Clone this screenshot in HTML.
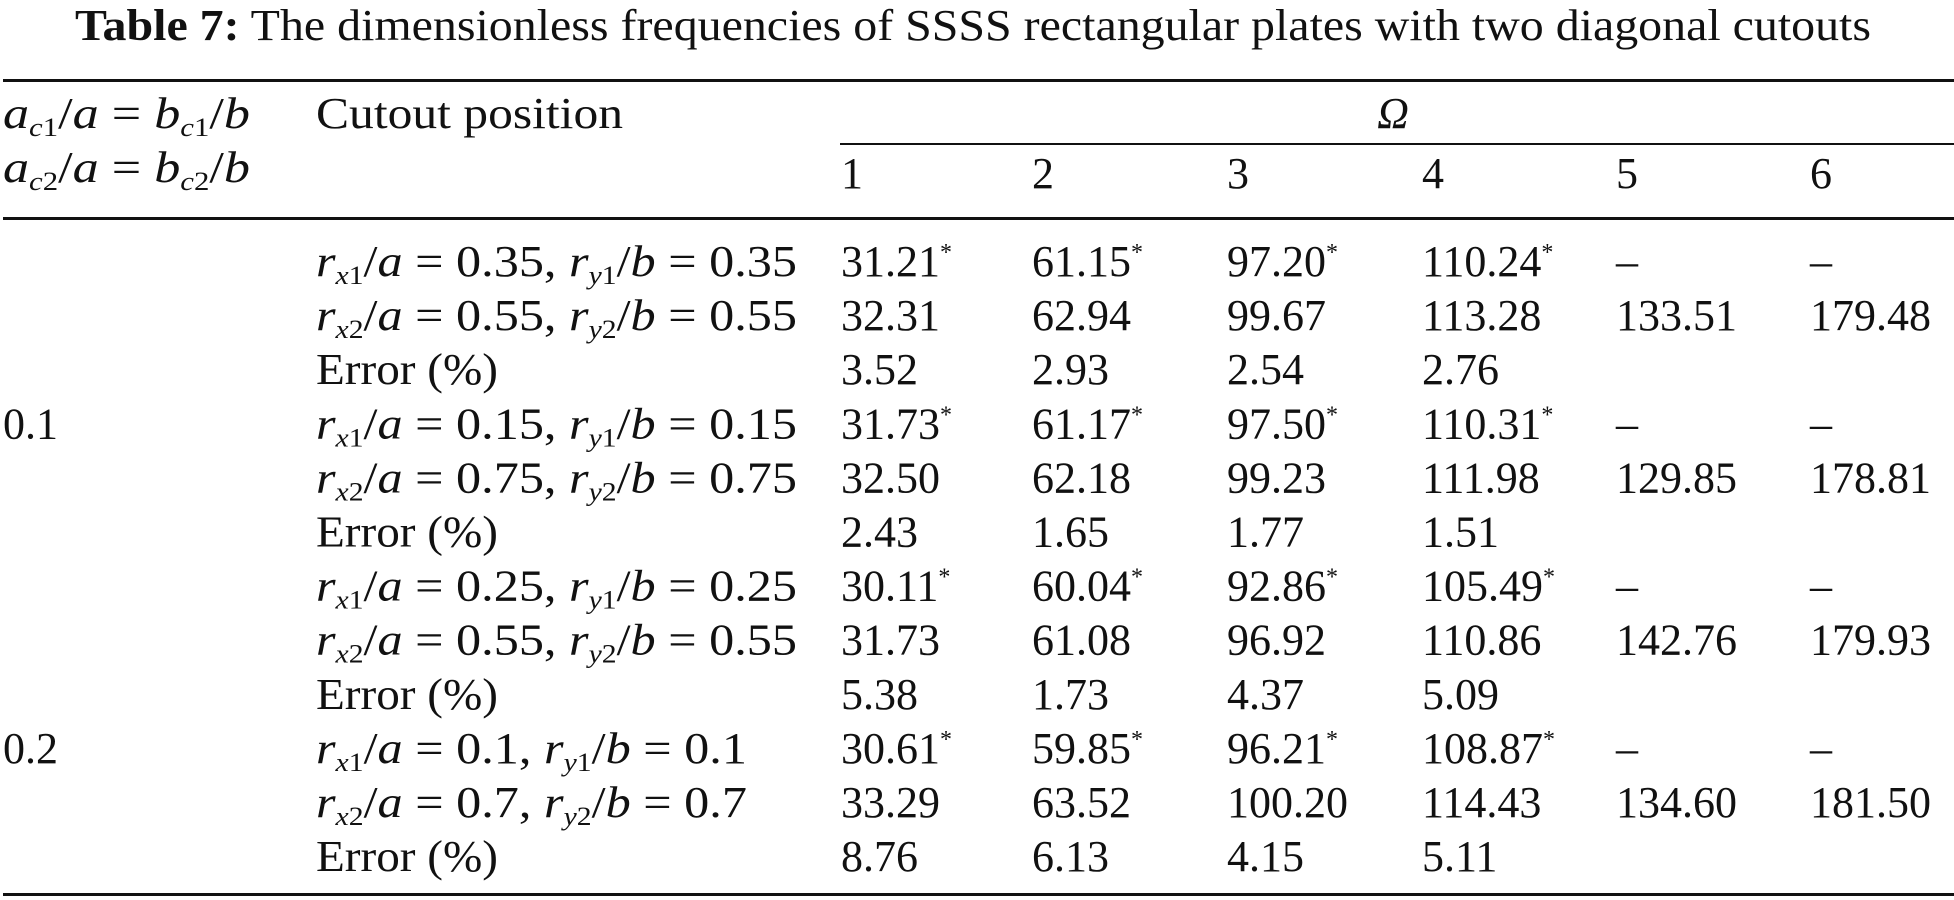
<!DOCTYPE html>
<html><head><meta charset="utf-8">
<style>
html,body{margin:0;padding:0;background:#fff;}
svg{display:block;}
text{font-family:"Liberation Serif",serif;fill:#111;}
</style></head>
<body>
<svg id="tbl" width="1954" height="900" viewBox="0 0 1954 900">
<text x="75" y="40" font-size="44" textLength="1796" lengthAdjust="spacingAndGlyphs"><tspan font-weight="bold">Table 7:</tspan>  The dimensionless frequencies of SSSS rectangular plates with two diagonal cutouts</text>
<rect x="3" y="79" width="1951" height="3" fill="#111"/>
<rect x="840" y="143" width="1114" height="2" fill="#111"/>
<rect x="3" y="217" width="1951" height="3" fill="#111"/>
<rect x="3" y="893" width="1951" height="3" fill="#111"/>
<text x="3" y="128" font-size="44" textLength="247" lengthAdjust="spacingAndGlyphs"><tspan font-style="italic">a</tspan><tspan font-style="italic" font-size="26" dy="8">c</tspan><tspan font-size="26">1</tspan><tspan dy="-8">/</tspan><tspan font-style="italic">a</tspan> = <tspan font-style="italic">b</tspan><tspan font-style="italic" font-size="26" dy="8">c</tspan><tspan font-size="26">1</tspan><tspan dy="-8">/</tspan><tspan font-style="italic">b</tspan></text>
<text x="3" y="182" font-size="44" textLength="247" lengthAdjust="spacingAndGlyphs"><tspan font-style="italic">a</tspan><tspan font-style="italic" font-size="26" dy="8">c</tspan><tspan font-size="26">2</tspan><tspan dy="-8">/</tspan><tspan font-style="italic">a</tspan> = <tspan font-style="italic">b</tspan><tspan font-style="italic" font-size="26" dy="8">c</tspan><tspan font-size="26">2</tspan><tspan dy="-8">/</tspan><tspan font-style="italic">b</tspan></text>
<text x="316" y="128" font-size="44" textLength="307" lengthAdjust="spacingAndGlyphs">Cutout position</text>
<text x="1393" y="128" font-size="44" font-style="italic" text-anchor="middle">Ω</text>
<g id="body"></g>
</svg>
<script>
const modeHeads = ["1","2","3","4","5","6"];
const groupLabels = ["", "", "", "0.1", "", "", "", "", "", "0.2", "", ""];
const posIdx = ["1","2","","1","2","","1","2","","1","2",""];
const posVals = ["0.35","0.55","","0.15","0.75","","0.25","0.55","","0.1","0.7",""];
const col1 = ["31.21*","32.31","3.52","31.73*","32.50","2.43","30.11*","31.73","5.38","30.61*","33.29","8.76"];
const col2 = ["61.15*","62.94","2.93","61.17*","62.18","1.65","60.04*","61.08","1.73","59.85*","63.52","6.13"];
const col3 = ["97.20*","99.67","2.54","97.50*","99.23","1.77","92.86*","96.92","4.37","96.21*","100.20","4.15"];
const col4 = ["110.24*","113.28","2.76","110.31*","111.98","1.51","105.49*","110.86","5.09","108.87*","114.43","5.11"];
const col5 = ["–","133.51","","–","129.85","","–","142.76","","–","134.60",""];
const col6 = ["–","179.48","","–","178.81","","–","179.93","","–","181.50",""];
const cols=[col1,col2,col3,col4,col5,col6];
const colX=[841,1032,1227,1422,1616,1810];
const NS="http://www.w3.org/2000/svg";
const g=document.getElementById('body');
const rowY=i=>276+i*54.1;
modeHeads.forEach((h,j)=>{
  const t=document.createElementNS(NS,'text');
  t.setAttribute('x',colX[j]);t.setAttribute('y',188);t.setAttribute('font-size','44');
  t.textContent=h;
  
  
  g.appendChild(t);
});
for(let i=0;i<12;i++){
  const y=rowY(i);
  if(groupLabels[i]){
    const t=document.createElementNS(NS,'text');
    t.setAttribute('x',3);t.setAttribute('y',y);t.setAttribute('font-size','44');
    t.textContent=groupLabels[i];
    
    
    g.appendChild(t);
  }
  const l=document.createElementNS(NS,'text');
  l.setAttribute('x',316);l.setAttribute('y',y);l.setAttribute('font-size','44');
  l.setAttribute('lengthAdjust','spacingAndGlyphs');
  if(posIdx[i]){
    const k=posIdx[i],v=posVals[i];
    l.innerHTML='<tspan font-style="italic">r</tspan><tspan font-style="italic" font-size="26" dy="8">x</tspan><tspan font-size="26">'+k+'</tspan><tspan dy="-8">/</tspan><tspan font-style="italic">a</tspan> = '+v+', <tspan font-style="italic">r</tspan><tspan font-style="italic" font-size="26" dy="8">y</tspan><tspan font-size="26">'+k+'</tspan><tspan dy="-8">/</tspan><tspan font-style="italic">b</tspan> = '+v;
    l.setAttribute('textLength', v.length>3?481:431);
  } else {
    l.textContent='Error (%)';
    l.setAttribute('textLength',182);
  }
  
  
  g.appendChild(l);
  cols.forEach((c,j)=>{
    const s=c[i]; if(!s) return;
    const t=document.createElementNS(NS,'text');
    t.setAttribute('x',colX[j]);t.setAttribute('y',y);t.setAttribute('font-size','44');
    if(s.endsWith('*')){
      t.innerHTML=s.slice(0,-1)+'<tspan font-size="24" dy="-16">*</tspan>';
    } else t.textContent=s;
    
    
    g.appendChild(t);
  });
}
</script>
</body></html>
